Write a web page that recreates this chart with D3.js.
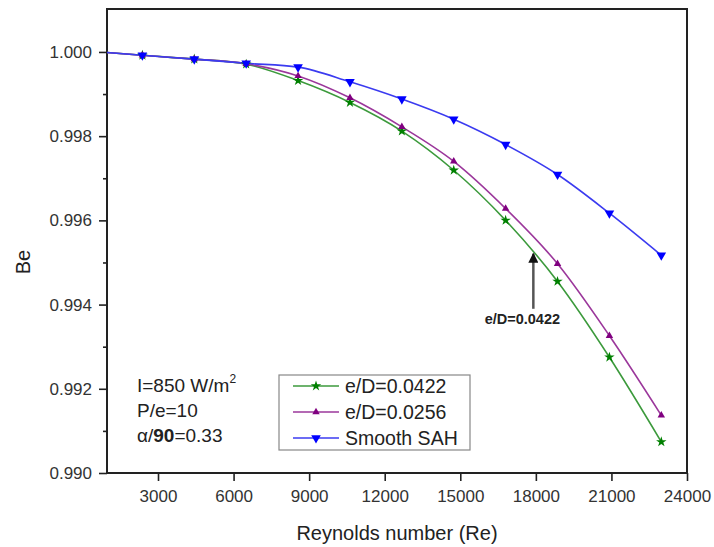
<!DOCTYPE html>
<html>
<head>
<meta charset="utf-8">
<script src="https://cdn.jsdelivr.net/npm/d3@7"></script>
<style>
  body{margin:0;background:#fff;}
  svg{display:block;font-family:"Liberation Sans",Arial,sans-serif;}
</style>
</head>
<body>
<svg id="chart"></svg>
<script>
// Reynolds numbers (first one sits left of the axis, only the line shows)
const re = [320, 2380, 4440, 6500, 8560, 10620, 12680, 14740, 16800, 18860, 20920, 22980];
const be_0422 = [1.00002, 0.99992, 0.99983, 0.99971, 0.99932, 0.99880, 0.99812, 0.99719, 0.99600, 0.99455, 0.99275, 0.99074];
const be_0256 = [1.00002, 0.99992, 0.99983, 0.99972, 0.99943, 0.99891, 0.99822, 0.99740, 0.99628, 0.99497, 0.99326, 0.99137];
const be_smooth = [1.00002, 0.99992, 0.99983, 0.99973, 0.99964, 0.99929, 0.99888, 0.99840, 0.99780, 0.99709, 0.99617, 0.99517];
const x_ticks = [3000, 6000, 9000, 12000, 15000, 18000, 21000, 24000];
const y_ticks = [0.990, 0.992, 0.994, 0.996, 0.998, 1.000];
const y_minor = [0.991, 0.993, 0.995, 0.997, 0.999];

const series = [
  {name:"e/D=0.0422", values:be_0422, line:"#3c9a3c", mark:"#008000", sym:d3.symbolStar, size:34, rot:0},
  {name:"e/D=0.0256", values:be_0256, line:"#9b379b", mark:"#800080", sym:d3.symbolTriangle, size:24, rot:0},
  {name:"Smooth SAH", values:be_smooth, line:"#3b3bf0", mark:"#0000ff", sym:d3.symbolTriangle, size:40, rot:180}
];

const width = 714, height = 547;
const margin = {left:107, right:27, top:9, bottom:74};
const iw = width-margin.left-margin.right;
const ih = height-margin.top-margin.bottom;

const svg = d3.select("#chart").attr("width",width).attr("height",height);
const chart = svg.append("g").attr("transform",`translate(${margin.left},${margin.top})`);

const xscale = d3.scaleLinear().domain([975,24000]).range([0,iw]);
const yscale = d3.scaleLinear().domain([0.990,1.00102]).range([ih,0]);

svg.append("defs").append("clipPath").attr("id","clip")
  .append("rect").attr("width",iw).attr("height",ih);

// axes
const xaxis = d3.axisBottom(xscale).tickValues(x_ticks).tickSize(8).tickPadding(9).tickFormat(d3.format("d"));
const yaxis = d3.axisLeft(yscale).tickValues(y_ticks).tickSize(8).tickPadding(7).tickFormat(d3.format(".3f"));
const xg = chart.append("g").attr("transform",`translate(0,${ih})`).call(xaxis);
const yg = chart.append("g").call(yaxis);
chart.append("g").call(d3.axisLeft(yscale).tickValues(y_minor).tickSize(4).tickFormat(""))
  .select(".domain").remove();
[xg,yg].forEach(g=>{
  g.select(".domain").remove();
  g.selectAll(".tick text").attr("fill","#333").attr("font-size",17);
});
chart.selectAll(".tick line").attr("stroke","#222").attr("stroke-width",1.6);

// frame
chart.append("rect").attr("width",iw).attr("height",ih)
  .attr("fill","none").attr("stroke","#222").attr("stroke-width",2);

// lines and markers
const plot = chart.append("g").attr("clip-path","url(#clip)");
const line = d3.line().x((d,i)=>xscale(re[i])).y(d=>yscale(d)).curve(d3.curveMonotoneX);
series.forEach(s=>{
  plot.append("path").attr("d",line(s.values))
    .attr("fill","none").attr("stroke",s.line).attr("stroke-width",1.6);
});
series.forEach(s=>{
  plot.selectAll(null).data(s.values).enter().append("path")
    .attr("d",d3.symbol().type(s.sym).size(s.size))
    .attr("transform",(d,i)=>`translate(${xscale(re[i])},${yscale(d)}) rotate(${s.rot})`)
    .attr("fill",s.mark);
});

// annotation arrow
const ax = xscale(17900);
svg.append("defs").append("marker").attr("id","head")
  .attr("viewBox","0 0 10 10").attr("refX",9).attr("refY",5)
  .attr("markerWidth",4.5).attr("markerHeight",4).attr("orient","auto")
  .append("path").attr("d","M0,0 L10,5 L0,10 Z").attr("fill","#111");
chart.append("line").attr("x1",ax).attr("x2",ax)
  .attr("y1",yscale(0.99390)).attr("y2",yscale(0.99521))
  .attr("stroke","#555").attr("stroke-width",2.5).attr("marker-end","url(#head)");
chart.append("text").attr("x",ax-11).attr("y",yscale(0.99367)).attr("dy","0.35em")
  .attr("text-anchor","middle").attr("font-size",14.5).attr("font-weight","bold")
  .attr("fill","#222").text("e/D=0.0422");

// parameter text
const info = svg.append("g").attr("fill","#222").attr("font-size",19);
const t1 = info.append("text").attr("x",137).attr("y",392);
t1.append("tspan").text("I=850 W/m");
t1.append("tspan").attr("font-size",12).attr("dy",-9).text("2");
info.append("text").attr("x",137).attr("y",417).text("P/e=10");
const t3 = info.append("text").attr("x",137).attr("y",442);
t3.append("tspan").text("α/");
t3.append("tspan").attr("font-weight","bold").text("90");
t3.append("tspan").text("=0.33");

// legend
const lg = svg.append("g").attr("transform","translate(279,375)");
lg.append("rect").attr("width",191).attr("height",75)
  .attr("fill","#fff").attr("stroke","#888").attr("stroke-width",1.2);
series.forEach((s,i)=>{
  const row = lg.append("g").attr("transform",`translate(0,${11+i*26})`);
  row.append("line").attr("x1",14).attr("x2",60).attr("stroke",s.line).attr("stroke-width",1.6);
  row.append("path").attr("d",d3.symbol().type(s.sym).size(s.size))
    .attr("transform",`translate(37,0) rotate(${s.rot})`).attr("fill",s.mark);
  row.append("text").attr("x",66).attr("dy","0.35em").attr("font-size",19.5)
    .attr("fill","#222").text(s.name);
});

// axis titles
svg.append("text").attr("x",margin.left+iw/2).attr("y",540)
  .attr("text-anchor","middle").attr("font-size",20).attr("fill","#222")
  .text("Reynolds number (Re)");
svg.append("text").attr("transform","rotate(-90)")
  .attr("x",-262).attr("y",30).attr("text-anchor","middle")
  .attr("font-size",20).attr("fill","#222").text("Be");
</script>
</body>
</html>
